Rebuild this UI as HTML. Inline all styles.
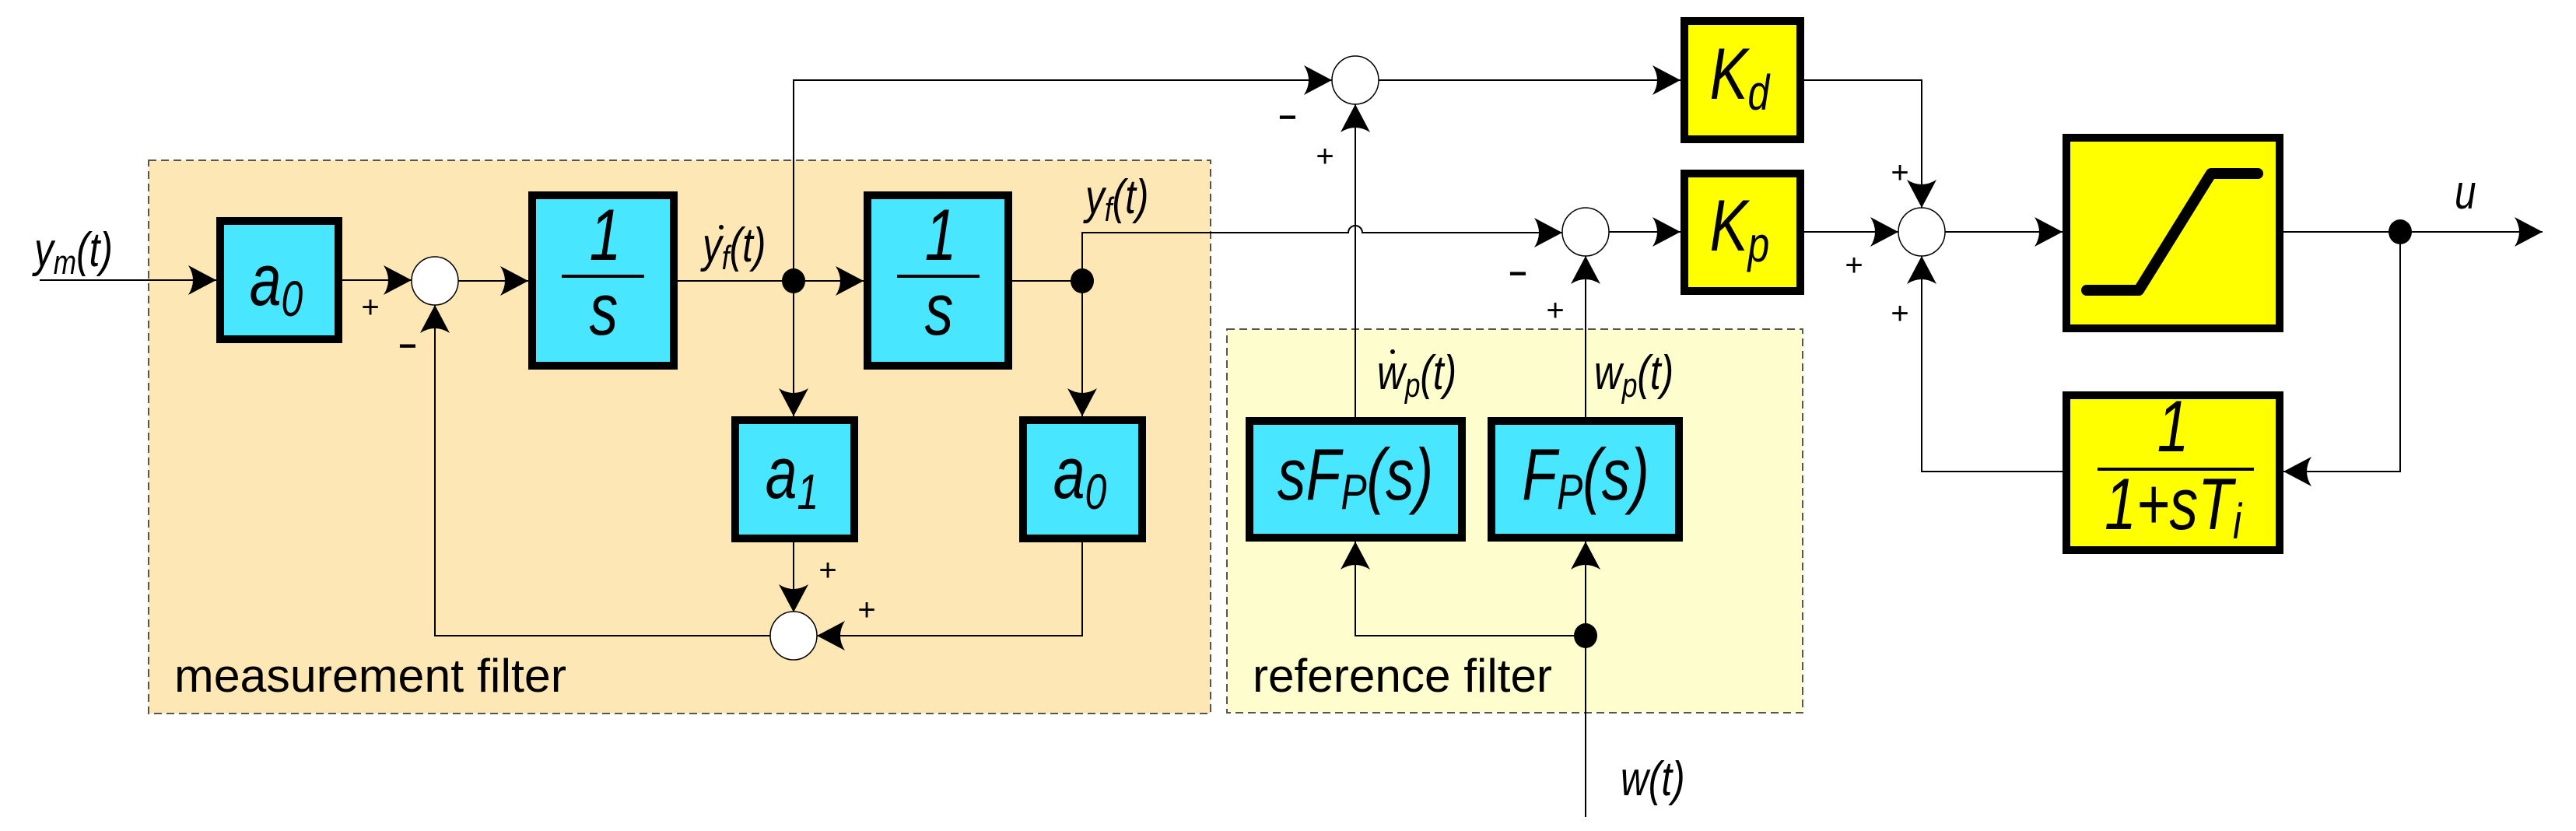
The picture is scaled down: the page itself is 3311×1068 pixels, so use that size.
<!DOCTYPE html>
<html><head><meta charset="utf-8"><style>
html,body{margin:0;padding:0;background:#fff;}
svg{display:block;}
text{font-family:"Liberation Sans",sans-serif;fill:#000;}
.i{font-style:italic;}
</style></head><body>
<svg width="3311" height="1068" viewBox="0 0 3311 1068" xmlns="http://www.w3.org/2000/svg">
<defs>
<marker id="ar" viewBox="-38 -22 42 44" markerWidth="42" markerHeight="44" refX="0" refY="0" orient="auto" markerUnits="userSpaceOnUse">
<path d="M0,0 L-36,-19 Q-24,0 -36,19 Z" fill="#000"/>
</marker>
</defs>
<rect x="191" y="206" width="1365" height="711" fill="#fde7b4" stroke="#555" stroke-width="2" stroke-dasharray="10,6"/>
<rect x="1577" y="423" width="740" height="493" fill="#fefdcd" stroke="#555" stroke-width="2" stroke-dasharray="10,6"/>

<g fill="none" stroke="#000" stroke-width="2">
<path d="M51,360 H278" marker-end="url(#ar)"/>
<path d="M440,360 H529" marker-end="url(#ar)"/>
<path d="M589,361 H679" marker-end="url(#ar)"/>
<path d="M871,361 H1110" marker-end="url(#ar)"/>
<path d="M1020,361 V103 H1712" marker-end="url(#ar)"/>
<path d="M1020,361 V535" marker-end="url(#ar)"/>
<path d="M1301,361 H1391"/>
<path d="M1391,361 V299 H1733 A9,9 0 0 1 1751,299 H2008" marker-end="url(#ar)"/>
<path d="M1391,361 V535" marker-end="url(#ar)"/>
<path d="M1020,697 V787" marker-end="url(#ar)"/>
<path d="M1391,697 V817 H1050" marker-end="url(#ar)"/>
<path d="M990,817 H559 V392" marker-end="url(#ar)"/>
<path d="M1772,103 H2160" marker-end="url(#ar)"/>
<path d="M1742,536 V134" marker-end="url(#ar)"/>
<path d="M2068,298 H2160" marker-end="url(#ar)"/>
<path d="M2319,103 H2470 V267" marker-end="url(#ar)"/>
<path d="M2319,298 H2440" marker-end="url(#ar)"/>
<path d="M2500,298 H2651" marker-end="url(#ar)"/>
<path d="M2935,298 H3268" marker-end="url(#ar)"/>
<path d="M3085,298 V606 H2935" marker-end="url(#ar)"/>
<path d="M2651,606 H2470 V329" marker-end="url(#ar)"/>
<path d="M2038,536 V329" marker-end="url(#ar)"/>
<path d="M2038,1050 V696" marker-end="url(#ar)"/>
<path d="M2038,817 H1742 V696" marker-end="url(#ar)"/>
</g>

<g fill="#fff" stroke="#000" stroke-width="1.5">
<ellipse cx="559" cy="361" rx="30" ry="31"/>
<ellipse cx="1020" cy="817" rx="30" ry="31"/>
<ellipse cx="1742" cy="103" rx="30" ry="31"/>
<ellipse cx="2038" cy="298" rx="30" ry="31"/>
<ellipse cx="2470" cy="298" rx="30" ry="31"/>
</g>
<g fill="#000">
<ellipse cx="1020" cy="361" rx="15" ry="16"/>
<ellipse cx="1391" cy="361" rx="15" ry="16"/>
<ellipse cx="2038" cy="817" rx="15" ry="16"/>
<ellipse cx="3085" cy="298" rx="15" ry="16"/>
</g>

<g stroke="#000" stroke-width="10">
<rect x="283" y="284" width="152" height="152" fill="#48e6ff"/>
<rect x="684" y="251" width="182" height="219" fill="#48e6ff"/>
<rect x="1115" y="251" width="181" height="219" fill="#48e6ff"/>
<rect x="945" y="540" width="153" height="152" fill="#48e6ff"/>
<rect x="1315" y="540" width="153" height="152" fill="#48e6ff"/>
<rect x="1606" y="541" width="273" height="150" fill="#48e6ff"/>
<rect x="1917" y="541" width="241" height="150" fill="#48e6ff"/>
<rect x="2165" y="27" width="149" height="152" fill="#ffff00"/>
<rect x="2165" y="223" width="149" height="151" fill="#ffff00"/>
<rect x="2656" y="177" width="274" height="245" fill="#ffff00"/>
<rect x="2656" y="508" width="274" height="199" fill="#ffff00"/>
</g>
<path d="M2682,373 H2749 L2842,223 H2902" fill="none" stroke="#000" stroke-width="14" stroke-linecap="round" stroke-linejoin="round"/>
<g stroke="#000" stroke-width="4">
<line x1="722" y1="355" x2="828" y2="355"/>
<line x1="1153" y1="355" x2="1259" y2="355"/>
<line x1="2696" y1="603" x2="2897" y2="603"/>
</g>

<g class="i" font-size="94" text-anchor="middle">
<text transform="translate(355,392) scale(0.78,1)">a<tspan font-size="64" dy="14">0</tspan></text>
<text transform="translate(1018,640) scale(0.78,1)">a<tspan font-size="64" dy="14">1</tspan></text>
<text transform="translate(1388,640) scale(0.78,1)">a<tspan font-size="64" dy="14">0</tspan></text>
<text transform="translate(778,334) scale(0.78,1)">1</text>
<text transform="translate(776,430) scale(0.78,1)">s</text>
<text transform="translate(1209,334) scale(0.78,1)">1</text>
<text transform="translate(1207,430) scale(0.78,1)">s</text>
<text transform="translate(2236,127) scale(0.78,1)">K<tspan font-size="64" dy="14">d</tspan></text>
<text transform="translate(2236,322) scale(0.78,1)">K<tspan font-size="64" dy="14">p</tspan></text>
<text transform="translate(1742,642) scale(0.78,1)">sF<tspan font-size="64" dy="12">P</tspan><tspan dy="-12">(s)</tspan></text>
<text transform="translate(2038,642) scale(0.78,1)">F<tspan font-size="64" dy="12">P</tspan><tspan dy="-12">(s)</tspan></text>
<text transform="translate(2793,580) scale(0.78,1)">1</text>
<text transform="translate(2793,680) scale(0.78,1)">1+sT<tspan font-size="64" dy="12">i</tspan></text>
</g>

<g class="i" font-size="62">
<text transform="translate(44,342) scale(0.8,1)">y<tspan font-size="44" dy="10">m</tspan><tspan dy="-10">(t)</tspan></text>
<text transform="translate(903,336) scale(0.8,1)">y<tspan font-size="44" dy="10">f</tspan><tspan dy="-10">(t)</tspan></text>
<text transform="translate(1395,274) scale(0.8,1)">y<tspan font-size="44" dy="10">f</tspan><tspan dy="-10">(t)</tspan></text>
<text transform="translate(1770,500) scale(0.8,1)">w<tspan font-size="44" dy="10">p</tspan><tspan dy="-10">(t)</tspan></text>
<text transform="translate(2049,500) scale(0.8,1)">w<tspan font-size="44" dy="10">p</tspan><tspan dy="-10">(t)</tspan></text>
<text transform="translate(2083,1022) scale(0.8,1)">w(t)</text>
<text transform="translate(3155,268) scale(0.8,1)">u</text>
</g>
<circle cx="927" cy="292" r="3" fill="#000"/>
<circle cx="1790" cy="452" r="3" fill="#000"/>

<g font-size="40" font-weight="bold" text-anchor="middle">
<text x="476" y="408" font-weight="normal">+</text>
<text x="524" y="458">−</text>
<text x="1064" y="746" font-weight="normal">+</text>
<text x="1114" y="797" font-weight="normal">+</text>
<text x="1655" y="164">−</text>
<text x="1703" y="214" font-weight="normal">+</text>
<text x="1951" y="365">−</text>
<text x="1999" y="412" font-weight="normal">+</text>
<text x="2442" y="235" font-weight="normal">+</text>
<text x="2383" y="354" font-weight="normal">+</text>
<text x="2442" y="416" font-weight="normal">+</text>
</g>

<text x="224" y="889" font-size="60" textLength="504" lengthAdjust="spacingAndGlyphs">measurement filter</text>
<text x="1610" y="889" font-size="60" textLength="385" lengthAdjust="spacingAndGlyphs">reference filter</text>
</svg>
</body></html>
